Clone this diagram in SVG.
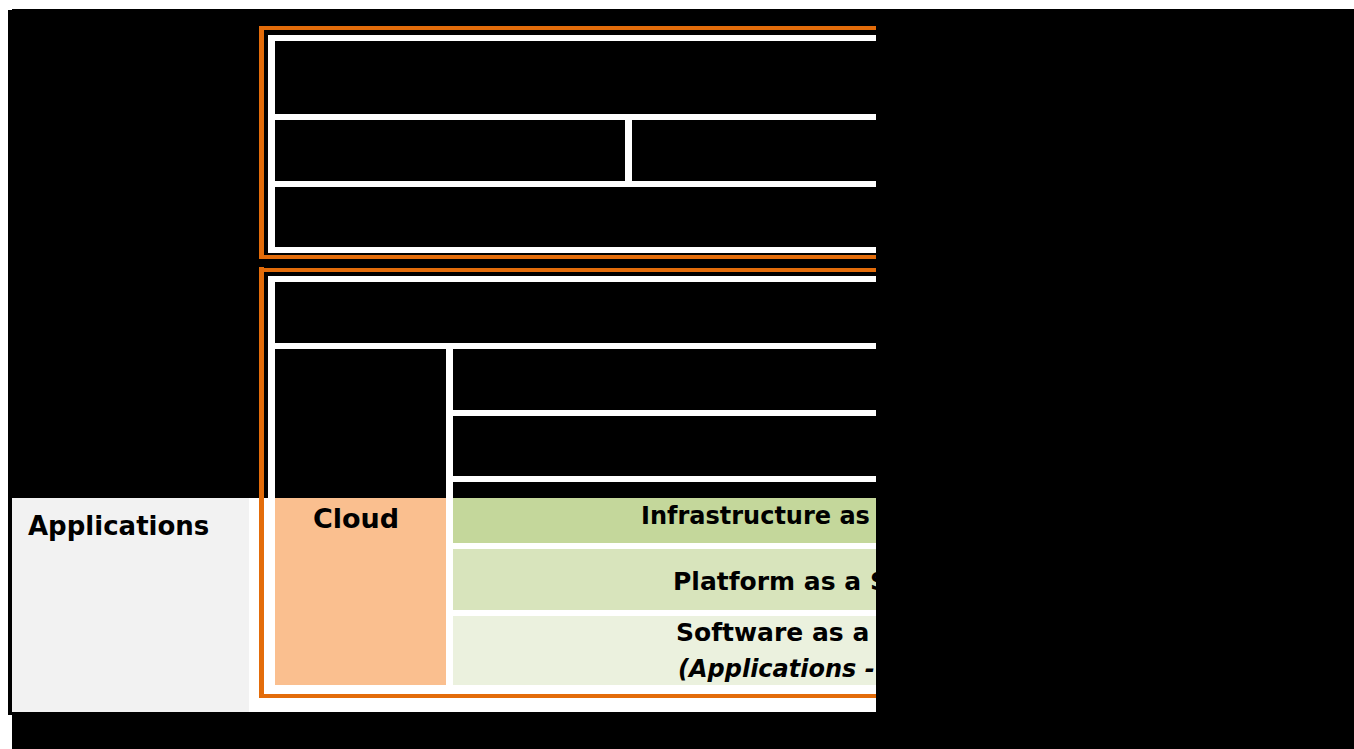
<svg xmlns="http://www.w3.org/2000/svg" width="1354" height="749" viewBox="0 0 1354 749">
  <defs>
    <clipPath id="clipR">
      <rect x="0" y="0" width="876" height="749"/>
    </clipPath>
    <style>
      .blk { fill: #000000; }
      .wht { fill: #FFFFFF; }
      .org { fill: #E36C0A; }
      .lbl { font-family: "DejaVu Sans", "Liberation Sans", sans-serif; font-weight: bold; fill: #000000; }
      .big { font-size: 27px; }
      .mid { font-size: 25px; }
      .ital { font-style: italic; }
    </style>
  </defs>

  <!-- page -->
  <rect x="0" y="0" width="1354" height="749" class="wht"/>
  <rect x="12" y="9" width="1342" height="740" class="blk"/>
  <rect x="8" y="10" width="4" height="705" class="blk"/>

  <g id="diagram" clip-path="url(#clipR)">
    <!-- lower white background and Applications row -->
    <rect x="249" y="498" width="700" height="214" class="wht"/>
    <g id="node-applications">
      <rect x="12" y="498" width="237" height="214" fill="#F2F2F2"/>
      <text x="28" y="535" class="lbl" font-size="26">Applications</text>
    </g>

    <!-- upper frame -->
    <g id="frame-top">
      <rect x="259" y="26" width="700" height="4" class="org"/>
      <rect x="259" y="26" width="5" height="233" class="org"/>
      <rect x="259" y="255" width="700" height="4" class="org"/>
      <rect x="268" y="35" width="700" height="218" class="wht"/>
      <rect id="cell-t1" x="275" y="41" width="700" height="73" class="blk"/>
      <rect id="cell-t2a" x="275" y="120" width="350" height="61" class="blk"/>
      <rect id="cell-t2b" x="632" y="120" width="400" height="61" class="blk"/>
      <rect id="cell-t3" x="275" y="187" width="700" height="60" class="blk"/>
    </g>

    <!-- lower frame -->
    <g id="frame-bottom">
      <rect x="259" y="268" width="700" height="4" class="org"/>
      <rect x="259" y="267" width="5" height="431" class="org"/>
      <rect x="259" y="694" width="700" height="4" class="org"/>
      <rect x="268" y="276" width="700" height="418" class="wht"/>
      <rect id="cell-b1" x="275" y="282" width="700" height="61" class="blk"/>
      <rect id="cell-b2" x="453" y="349" width="500" height="61" class="blk"/>
      <rect id="cell-b3" x="453" y="416" width="500" height="60" class="blk"/>
      <rect id="cell-b4" x="453" y="482" width="500" height="16" class="blk"/>
      <rect x="275" y="349" width="171" height="149" class="blk"/>
    </g>

    <g id="node-cloud">
      <rect x="275" y="498" width="171" height="187" fill="#FABF8F"/>
      <text x="313" y="528" class="lbl big">Cloud</text>
    </g>
    <g id="node-iaas">
      <rect x="453" y="498" width="500" height="45" fill="#C4D79B"/>
      <text x="641" y="524" class="lbl" font-size="24">Infrastructure as</text>
    </g>
    <g id="node-paas">
      <rect x="453" y="549" width="500" height="61" fill="#D8E4BC"/>
      <text x="673" y="590" class="lbl mid">Platform as a S</text>
    </g>
    <g id="node-saas">
      <rect x="453" y="616" width="500" height="69" fill="#EBF1DE"/>
      <text x="676" y="641" class="lbl mid">Software as a</text>
      <text x="678" y="677" class="lbl ital" font-size="24">(Applications -</text>
    </g>

    <g id="connectors"/>
  </g>
</svg>
